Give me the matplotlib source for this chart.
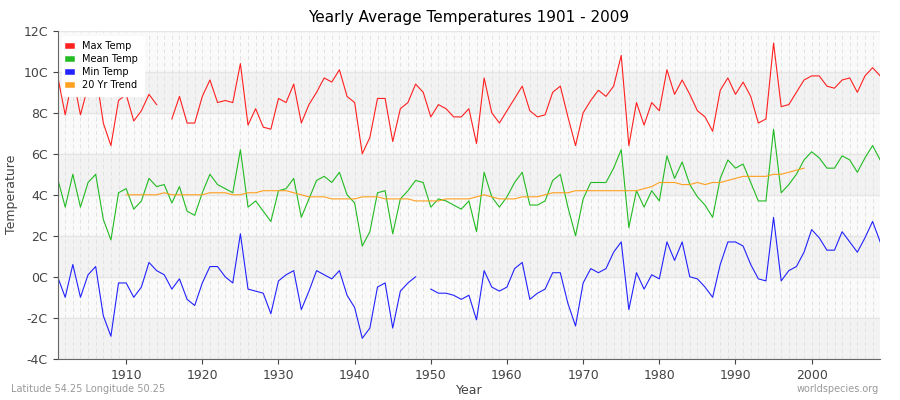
import numpy as np
import matplotlib
matplotlib.use("Agg")
from matplotlib import pyplot as plt

years = np.arange(1901, 2010)
nan = np.nan

max_temp = [9.8, 7.9, 9.8, 7.9, 9.3, 10.0, 7.5, 6.4, 8.6, 8.9,
            7.6, 8.1, 8.9, 8.4, nan, 7.7, 8.8, 7.5, 7.5, 8.8,
            9.6, 8.5, 8.6, 8.5, 10.4, 7.4, 8.2, 7.3, 7.2, 8.7,
            8.5, 9.4, 7.5, 8.4, 9.0, 9.7, 9.5, 10.1, 8.8, 8.5,
            6.0, 6.8, 8.7, 8.7, 6.6, 8.2, 8.5, 9.4, 9.0, 7.8,
            8.4, 8.2, 7.8, 7.8, 8.2, 6.5, 9.7, 8.0, 7.5, 8.1,
            8.7, 9.3, 8.1, 7.8, 7.9, 9.0, 9.3, 7.8, 6.4, 8.0,
            8.6, 9.1, 8.8, 9.3, 10.8, 6.4, 8.5, 7.4, 8.5, 8.1,
            10.1, 8.9, 9.6, 8.9, 8.1, 7.8, 7.1, 9.1, 9.7, 8.9,
            9.5, 8.8, 7.5, 7.7, 11.4, 8.3, 8.4, 9.0, 9.6, 9.8,
            9.8, 9.3, 9.2, 9.6, 9.7, 9.0, 9.8, 10.2, 9.8]

mean_temp = [4.8, 3.4, 5.0, 3.4, 4.6, 5.0, 2.8, 1.8, 4.1, 4.3,
             3.3, 3.7, 4.8, 4.4, 4.5, 3.6, 4.4, 3.2, 3.0, 4.1,
             5.0, 4.5, 4.3, 4.1, 6.2, 3.4, 3.7, 3.2, 2.7, 4.2,
             4.3, 4.8, 2.9, 3.8, 4.7, 4.9, 4.6, 5.1, 4.0, 3.6,
             1.5, 2.2, 4.1, 4.2, 2.1, 3.8, 4.2, 4.7, 4.6, 3.4,
             3.8, 3.7, 3.5, 3.3, 3.7, 2.2, 5.1, 3.9, 3.4, 3.9,
             4.6, 5.1, 3.5, 3.5, 3.7, 4.7, 5.0, 3.4, 2.0, 3.8,
             4.6, 4.6, 4.6, 5.3, 6.2, 2.4, 4.2, 3.4, 4.2, 3.7,
             5.9, 4.8, 5.6, 4.5, 3.9, 3.5, 2.9, 4.8, 5.7, 5.3,
             5.5, 4.6, 3.7, 3.7, 7.2, 4.1, 4.5, 5.0, 5.7, 6.1,
             5.8, 5.3, 5.3, 5.9, 5.7, 5.1, 5.8, 6.4, 5.7]

min_temp = [0.0, -1.0, 0.6, -1.0, 0.1, 0.5, -1.9, -2.9, -0.3, -0.3,
            -1.0, -0.5, 0.7, 0.3, 0.1, -0.6, -0.1, -1.1, -1.4, -0.3,
            0.5, 0.5, 0.0, -0.3, 2.1, -0.6, -0.7, -0.8, -1.8, -0.2,
            0.1, 0.3, -1.6, -0.7, 0.3, 0.1, -0.1, 0.3, -0.9, -1.5,
            -3.0, -2.5, -0.5, -0.3, -2.5, -0.7, -0.3, 0.0, nan, -0.6,
            -0.8, -0.8, -0.9, -1.1, -0.9, -2.1, 0.3, -0.5, -0.7, -0.5,
            0.4, 0.7, -1.1, -0.8, -0.6, 0.2, 0.2, -1.3, -2.4, -0.3,
            0.4, 0.2, 0.4, 1.2, 1.7, -1.6, 0.2, -0.6, 0.1, -0.1,
            1.7, 0.8, 1.7, 0.0, -0.1, -0.5, -1.0, 0.6, 1.7, 1.7,
            1.5, 0.6, -0.1, -0.2, 2.9, -0.2, 0.3, 0.5, 1.2, 2.3,
            1.9, 1.3, 1.3, 2.2, 1.7, 1.2, 1.9, 2.7, 1.7]

trend_years = np.arange(1910, 2000)
trend = [4.0, 4.0, 4.0, 4.0, 4.0, 4.1, 4.0, 4.0, 4.0, 4.0,
         4.0, 4.1, 4.1, 4.1, 4.0, 4.0, 4.1, 4.1, 4.2, 4.2,
         4.2, 4.2, 4.1, 4.0, 3.9, 3.9, 3.9, 3.8, 3.8, 3.8,
         3.8, 3.9, 3.9, 3.9, 3.8, 3.8, 3.8, 3.8, 3.7, 3.7,
         3.7, 3.7, 3.8, 3.8, 3.8, 3.8, 3.9, 4.0, 3.9, 3.8,
         3.8, 3.8, 3.9, 3.9, 3.9, 4.0, 4.1, 4.1, 4.1, 4.2,
         4.2, 4.2, 4.2, 4.2, 4.2, 4.2, 4.2, 4.2, 4.3, 4.4,
         4.6, 4.6, 4.6, 4.5, 4.5, 4.6, 4.5, 4.6, 4.6, 4.7,
         4.8, 4.9, 4.9, 4.9, 4.9, 5.0, 5.0, 5.1, 5.2, 5.3]

fig = plt.figure(figsize=(9, 4), dpi=100)
ax = fig.add_axes([0.064, 0.103, 0.914, 0.82])
ax.set_facecolor('#fafafa')
for lo in range(-4, 12, 4):
    ax.axhspan(lo, lo + 2, color='#f2f2f2', zorder=0)
for y in range(-4, 13, 2):
    ax.axhline(y, color='#e6e6e6', lw=1, zorder=0.5)
for yr in years:
    ax.axvline(yr, color='#e2e2e2', lw=0.7, ls=(0, (4, 3)), zorder=0.5)

ax.plot(years, max_temp, color='#ff2020', lw=0.8, label='Max Temp')
ax.plot(years, mean_temp, color='#22bb22', lw=0.8, label='Mean Temp')
ax.plot(years, min_temp, color='#2222ff', lw=0.8, label='Min Temp')
ax.plot(trend_years, trend, color='#ffa020', lw=0.8, label='20 Yr Trend')

ax.set_xlim(1901, 2009)
ax.set_ylim(-4, 12)
ax.set_yticks(range(-4, 13, 2))
ax.set_yticklabels([f'{v}C' for v in range(-4, 13, 2)])
ax.set_xticks(range(1910, 2001, 10))
ax.tick_params(labelsize=9, colors='#444444')
for s in ['top', 'right']:
    ax.spines[s].set_visible(False)
for s in ['left', 'bottom']:
    ax.spines[s].set_color('#666666')
ax.set_title('Yearly Average Temperatures 1901 - 2009', fontsize=11)
ax.set_xlabel('Year', fontsize=9, color='#444444', labelpad=2)
ax.set_ylabel('Temperature', fontsize=9, color='#444444')

leg = ax.legend(loc='upper left', fontsize=7, handlelength=0.4, handleheight=0.5,
                borderpad=0.6, labelspacing=0.3, handletextpad=1.0, framealpha=1,
                edgecolor='white')
for h in leg.legend_handles:
    h.set_linewidth(4)

fig.text(0.012, 0.02, 'Latitude 54.25 Longitude 50.25', fontsize=7, color='#999999')
fig.text(0.977, 0.02, 'worldspecies.org', fontsize=7, color='#999999', ha='right')
fig.savefig('out.png')
